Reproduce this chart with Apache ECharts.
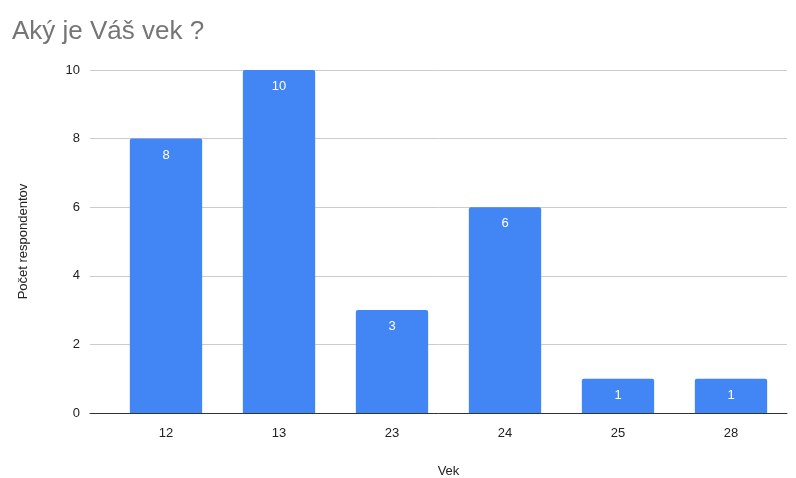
<!DOCTYPE html>
<html>
<head>
<meta charset="utf-8">
<script src="https://cdn.jsdelivr.net/npm/echarts@6/dist/echarts.min.js"></script>
<style>
  html, body { margin: 0; padding: 0; background: #fff; }
  #chart { width: 796px; height: 478px; }
</style>
</head>
<body>
<div id="chart"></div>
<script>
// Age categories and number of respondents for each
const ages = ['12', '13', '23', '24', '25', '28'];
const counts = [8, 10, 3, 6, 1, 1];
const yTicks = [0, 2, 4, 6, 8, 10];

const FONT = '"Liberation Sans", Arial, sans-serif';

const chart = echarts.init(document.getElementById('chart'), null, { renderer: 'canvas' });
chart.setOption({
  animation: false,
  backgroundColor: '#ffffff',
  title: {
    text: 'Aký je Váš vek ?',
    left: 12,
    top: 19,
    padding: 0,
    textStyle: { color: '#757575', fontSize: 26, fontWeight: 'normal', fontFamily: FONT }
  },
  grid: [
    // gridlines, value axis and zero line span the wider area
    { left: 90, right: 9, top: 70, bottom: 65, outerBoundsMode: 'none' },
    // bars sit in the category band
    { left: 109.5, right: 8.5, top: 70, bottom: 65, outerBoundsMode: 'none' }
  ],
  xAxis: [
    {
      gridIndex: 0, type: 'value', min: 0, max: 1,
      axisLine: { show: true, lineStyle: { color: '#333333', width: 1 } },
      axisTick: { show: false },
      axisLabel: { show: false }, splitLine: { show: false }
    },
    {
      gridIndex: 1, type: 'category', data: ages,
      name: 'Vek', nameLocation: 'middle', nameGap: 52,
      nameTextStyle: { color: '#222', fontSize: 13, fontFamily: FONT },
      axisLine: { show: false },
      axisTick: { show: false },
      axisLabel: { color: '#222', fontSize: 13, margin: 14, fontFamily: FONT }
    }
  ],
  yAxis: [
    {
      gridIndex: 0, type: 'value', min: yTicks[0], max: yTicks[yTicks.length - 1], interval: 2,
      name: 'Počet respondentov', nameLocation: 'middle', nameGap: 60, nameRotate: 90,
      nameTextStyle: { color: '#222', fontSize: 13, fontFamily: FONT },
      axisLine: { show: false }, axisTick: { show: false },
      axisLabel: { color: '#222', fontSize: 13, margin: 10, fontFamily: FONT },
      splitLine: { lineStyle: { color: '#cccccc', width: 1 } }
    },
    {
      gridIndex: 1, type: 'value', min: yTicks[0], max: yTicks[yTicks.length - 1], interval: 2,
      axisLine: { show: false }, axisTick: { show: false },
      axisLabel: { show: false }, splitLine: { show: false }
    }
  ],
  series: [
    {
      type: 'bar', xAxisIndex: 1, yAxisIndex: 1,
      data: counts,
      barCategoryGap: '36%',
      itemStyle: { color: '#4285F4', borderRadius: [2, 2, 0, 0] },
      label: {
        show: true, position: 'insideTop', distance: 10,
        color: '#ffffff', fontSize: 13, fontFamily: FONT
      },
      z: 3
    }
  ]
});
</script>
</body>
</html>
